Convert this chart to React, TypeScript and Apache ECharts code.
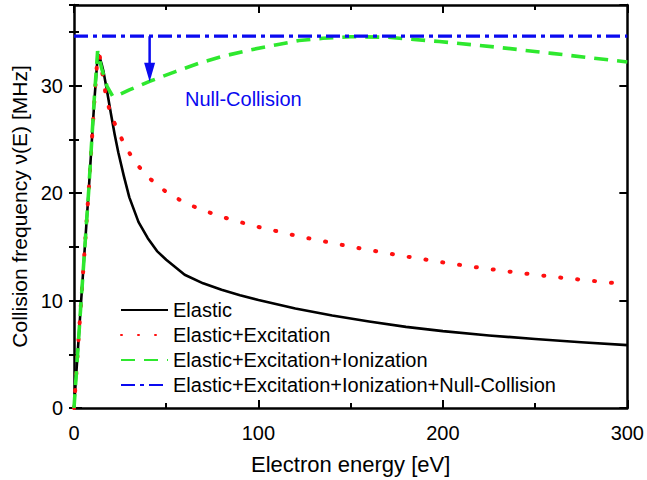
import React, { useEffect, useRef } from 'react';
import * as echarts from 'echarts';

// ---- data ----
const elasticE = [0, 4, 8, 11, 12.5, 13.6, 15, 16, 18, 20, 22, 24, 27, 30, 35, 40, 45, 50, 60, 70, 80, 90, 100, 120, 140, 160, 180, 200, 225, 250, 275, 300];
const elasticV = [0, 10.3, 20.3, 28.5, 32.0, 32.8, 32.0, 31.3, 29.4, 27.4, 25.5, 23.8, 21.6, 19.6, 17.3, 15.8, 14.6, 13.8, 12.4, 11.6, 11.0, 10.5, 10.05, 9.25, 8.6, 8.05, 7.55, 7.15, 6.75, 6.42, 6.12, 5.85];

const excitE = [0, 4, 8, 11, 12.5, 13.8, 15.5, 17, 19, 21, 24, 28, 33, 40, 50, 60, 70, 80, 90, 100, 120, 140, 160, 180, 200, 220, 240, 260, 280, 300];
const excitV = [0, 10.3, 20.3, 28.5, 32.1, 32.9, 31.0, 29.4, 27.9, 26.9, 25.7, 24.3, 22.9, 21.5, 20.1, 19.1, 18.4, 17.8, 17.3, 16.85, 16.05, 15.35, 14.7, 14.1, 13.55, 13.05, 12.6, 12.2, 11.85, 11.5];

const ionizE = [0, 4, 8, 11, 12.8, 15, 18, 21, 25, 30, 41, 55, 68, 80, 95, 110, 122, 135, 150, 170, 198, 228, 259, 300];
const ionizV = [0, 10.3, 20.3, 28.8, 33.2, 31.6, 29.9, 29.0, 29.2, 29.6, 30.4, 31.3, 32.1, 32.7, 33.3, 33.8, 34.2, 34.4, 34.55, 34.5, 34.1, 33.6, 33.0, 32.2];

const nullE = [0, 300];
const nullV = [34.6, 34.6];

const arrowE = [41, 41];
const arrowV = [34.6, 31.25];

const seriesNames = [
  'Elastic',
  'Elastic+Excitation',
  'Elastic+Excitation+Ionization',
  'Elastic+Excitation+Ionization+Null-Collision',
];
const annotationText = 'Null-Collision';
const xTitle = 'Electron energy [eV]';
const yTitle = 'Collision frequency \u03bd(E) [MHz]';

const zip = (xs: number[], ys: number[]) => xs.map((x, i) => [x, ys[i]]);

const FONT = '"Liberation Sans", Arial, Helvetica, sans-serif';
const BLACK = '#000000';
const RED = '#ff1010';
const GREEN = '#2ee82e';
const BLUE = '#0a0af0';

export default function App() {
  const ref = useRef<HTMLDivElement>(null);
  useEffect(() => {
    if (!ref.current) return;
    const chart = echarts.init(ref.current, null, { renderer: 'svg' });
    const axisLine = { show: true, onZero: false, lineStyle: { color: BLACK, width: 2.5 } };
    const majorTick = { show: true, inside: true, length: 8, lineStyle: { color: BLACK, width: 2 } };
    const minorTickY = { show: true, inside: true, length: 5, lineStyle: { color: BLACK, width: 2 } };
    const noSplit = { show: false };
    const labelStyle = { color: BLACK, fontSize: 20, fontFamily: FONT };

    const yBase = { type: 'value', min: 0, max: 37.5, splitLine: noSplit };

    chart.setOption({
      animation: false,
      backgroundColor: '#ffffff',
      textStyle: { fontFamily: FONT },
      grid: { left: 74, right: 18, top: 5, bottom: 68.5, containLabel: false },
      legend: {
        show: true,
        orient: 'vertical',
        left: 115,
        top: 295,
        itemWidth: 47,
        itemHeight: 14,
        itemGap: 5,
        data: seriesNames,
        selectedMode: false,
        itemStyle: { opacity: 0 },
        textStyle: { color: BLACK, fontSize: 20, fontFamily: FONT },
      },
      xAxis: [
        {
          type: 'value',
          position: 'bottom',
          min: 0,
          max: 300,
          interval: 100,
          axisLine,
          axisTick: majorTick,
          minorTick: { show: true, splitNumber: 2, length: 5, lineStyle: { color: BLACK, width: 2 } },
          axisLabel: { ...labelStyle, margin: 15 },
          splitLine: noSplit,
          name: xTitle,
          nameLocation: 'middle',
          nameGap: 45,
          nameTextStyle: { color: BLACK, fontSize: 22, fontFamily: FONT },
        },
        {
          type: 'value',
          position: 'top',
          min: 0,
          max: 300,
          interval: 100,
          axisLine,
          axisTick: majorTick,
          minorTick: { show: true, splitNumber: 2, length: 5, lineStyle: { color: BLACK, width: 2 } },
          axisLabel: { show: false },
          splitLine: noSplit,
        },
      ],
      yAxis: [
        {
          ...yBase,
          position: 'left',
          interval: 10,
          axisLine,
          axisTick: majorTick,
          axisLabel: {
            ...labelStyle,
            margin: 11,
            showMaxLabel: false,
            formatter: (v: number) => (v % 10 === 0 ? String(v) : ''),
          },
          name: yTitle,
          nameLocation: 'middle',
          nameGap: 38,
          nameTextStyle: { color: BLACK, fontSize: 21, fontFamily: FONT },
        },
        {
          ...yBase,
          position: 'left',
          interval: 5,
          axisLine: { show: false },
          axisTick: minorTickY,
          axisLabel: { show: false },
        },
        {
          ...yBase,
          position: 'right',
          interval: 10,
          axisLine,
          axisTick: majorTick,
          axisLabel: { show: false },
        },
        {
          ...yBase,
          position: 'right',
          interval: 5,
          axisLine: { show: false },
          axisTick: minorTickY,
          axisLabel: { show: false },
        },
      ],
      graphic: [
        {
          type: 'text',
          left: 185,
          top: 89,
          silent: true,
          style: { text: annotationText, fontSize: 20, fontFamily: FONT, fill: BLUE },
        },
      ],
      series: [
        {
          name: seriesNames[0],
          type: 'line',
          data: zip(elasticE, elasticV),
          showSymbol: false,
          symbol: 'none',
          smooth: false,
          silent: true,
          itemStyle: { color: BLACK },
          lineStyle: { color: BLACK, width: 2.6, join: 'round' },
          z: 2,
        },
        {
          name: seriesNames[1],
          type: 'line',
          data: zip(excitE, excitV),
          showSymbol: false,
          symbol: 'none',
          smooth: false,
          silent: true,
          itemStyle: { color: RED },
          lineStyle: { color: RED, width: 4, type: [1, 16], cap: 'round' },
          z: 3,
        },
        {
          name: seriesNames[2],
          type: 'line',
          data: zip(ionizE, ionizV),
          showSymbol: false,
          symbol: 'none',
          smooth: false,
          silent: true,
          itemStyle: { color: GREEN },
          lineStyle: { color: GREEN, width: 3.6, type: [14, 9] },
          z: 4,
        },
        {
          name: seriesNames[3],
          type: 'line',
          data: zip(nullE, nullV),
          showSymbol: false,
          symbol: 'none',
          silent: true,
          itemStyle: { color: BLUE },
          lineStyle: { color: BLUE, width: 3.2, type: [14, 5, 4, 5] },
          z: 5,
        },
        {
          name: 'arrow',
          type: 'line',
          silent: true,
          showSymbol: true,
          symbol: 'none',
          data: [
            { value: [arrowE[0], arrowV[0]], symbol: 'none' },
            { value: [arrowE[1], arrowV[1]], symbol: 'triangle', symbolSize: [11, 19], symbolRotate: 180 },
          ],
          itemStyle: { color: BLUE },
          lineStyle: { color: BLUE, width: 2.5 },
          z: 6,
        },
      ],
    });
    return () => chart.dispose();
  }, []);
  return <div ref={ref} style={{ position: 'absolute', left: 0, top: 0, width: 647, height: 480 }} />;
}
